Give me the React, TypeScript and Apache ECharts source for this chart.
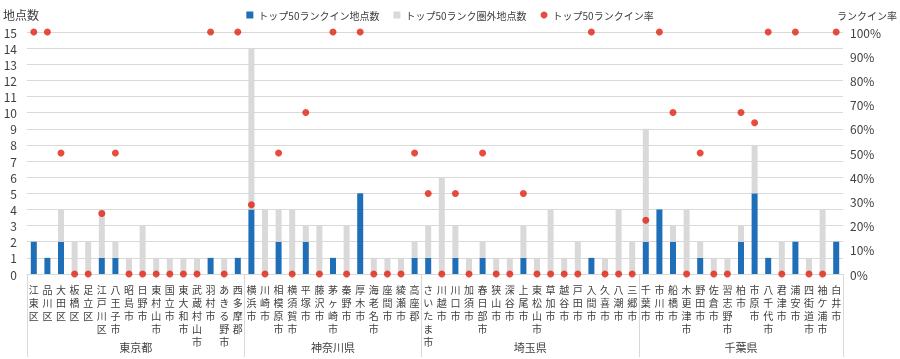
import React, { useEffect, useRef } from 'react';
import * as echarts from 'echarts';

const tokyo = ['江東区', '品川区', '大田区', '板橋区', '足立区', '江戸川区', '八王子市', '昭島市', '日野市', '東村山市', '国立市', '東大和市', '武蔵村山市', '羽村市', 'あきる野市', '西多摩郡'];
const kanagawa = ['横浜市', '川崎市', '相模原市', '横須賀市', '平塚市', '藤沢市', '茅ヶ崎市', '秦野市', '厚木市', '海老名市', '座間市', '綾瀬市', '高座郡'];
const saitama = ['さいたま市', '川越市', '川口市', '加須市', '春日部市', '狭山市', '深谷市', '上尾市', '東松山市', '草加市', '越谷市', '戸田市', '入間市', '久喜市', '八潮市', '三郷市'];
const chiba = ['千葉市', '市川市', '船橋市', '木更津市', '野田市', '佐倉市', '習志野市', '柏市', '市原市', '八千代市', '君津市', '浦安市', '四街道市', '袖ケ浦市', '白井市'];

const groupNames = ['東京都', '神奈川県', '埼玉県', '千葉県'];

const rankIn = [
  2, 1, 2, 0, 0, 1, 1, 0, 0, 0, 0, 0, 0, 1, 0, 1,
  4, 0, 2, 0, 2, 0, 1, 0, 5, 0, 0, 0, 1,
  1, 0, 1, 0, 1, 0, 0, 1, 0, 0, 0, 0, 1, 0, 0, 0,
  2, 4, 2, 0, 1, 0, 0, 2, 5, 1, 0, 2, 0, 0, 2,
];
const rankOut = [
  0, 0, 2, 2, 2, 3, 1, 1, 3, 1, 1, 1, 1, 0, 1, 0,
  10, 4, 2, 4, 1, 3, 0, 3, 0, 1, 1, 1, 1,
  2, 6, 2, 1, 1, 1, 1, 2, 1, 4, 1, 2, 0, 1, 4, 2,
  7, 0, 1, 4, 1, 1, 1, 1, 3, 0, 2, 0, 1, 4, 0,
];
const rankRate = [
  100, 100, 50, 0, 0, 25, 50, 0, 0, 0, 0, 0, 0, 100, 0, 100,
  28.6, 0, 50, 0, 66.7, 0, 100, 0, 100, 0, 0, 0, 50,
  33.3, 0, 33.3, 0, 50, 0, 0, 33.3, 0, 0, 0, 0, 100, 0, 0, 0,
  22.2, 100, 66.7, 0, 50, 0, 0, 66.7, 62.5, 100, 0, 100, 0, 0, 100,
];

const groups = [tokyo, kanagawa, saitama, chiba];
const categories = groups.flat();

export default function App() {
  const ref = useRef<HTMLDivElement>(null);
  useEffect(() => {
    const chart = echarts.init(ref.current!, null, { renderer: 'svg' });
    const bounds: number[] = [0];
    groups.forEach((g) => bounds.push(bounds[bounds.length - 1] + g.length));
    const centers = groups.map((g, i) => (bounds[i] + bounds[i + 1]) / 2);
    const font = '"Noto Sans CJK JP", "Noto Sans", sans-serif';
    chart.setOption({
      animation: false,
      textStyle: { fontFamily: font },
      legend: {
        top: 5,
        left: 'center',
        itemGap: 14,
        itemWidth: 7,
        itemHeight: 7,
        textStyle: { fontSize: 10, color: '#404040' },
        data: [
          { name: 'トップ50ランクイン地点数', icon: 'rect' },
          { name: 'トップ50ランク圏外地点数', icon: 'rect' },
          { name: 'トップ50ランクイン率', icon: 'circle' },
        ],
      },
      grid: { left: 27, right: 44, top: 32, bottom: 85 },
      xAxis: [
        {
          type: 'category',
          data: categories,
          axisLine: { lineStyle: { color: '#d9d9d9' } },
          axisTick: { show: false },
          axisLabel: {
            interval: 0,
            margin: 9,
            fontSize: 10,
            lineHeight: 13,
            color: '#404040',
            formatter: (v: string) => v.split('').join('\n'),
          },
        },
        {
          type: 'value',
          position: 'bottom',
          min: 0,
          max: categories.length,
          axisLine: { show: false },
          splitLine: { show: false },
          axisTick: {
            show: true,
            customValues: bounds,
            length: 83,
            lineStyle: { color: '#d9d9d9' },
          },
          axisLabel: {
            customValues: centers,
            margin: 67,
            fontSize: 11,
            color: '#404040',
            formatter: (v: number) => {
              const i = centers.findIndex((c) => Math.abs(c - v) < 0.01);
              return i >= 0 ? groupNames[i] : '';
            },
          },
        },
      ],
      yAxis: [
        {
          type: 'value',
          min: 0,
          max: 15,
          interval: 1,
          name: '地点数',
          nameLocation: 'end',
          nameGap: 12,
          nameTextStyle: { fontSize: 12, color: '#404040', align: 'center', padding: [0, 12, 0, 0] },
          axisLine: { show: false },
          axisTick: { show: false },
          axisLabel: { fontSize: 12, color: '#404040', margin: 10 },
          splitLine: { lineStyle: { color: '#d9d9d9' } },
        },
        {
          type: 'value',
          min: 0,
          max: 100,
          interval: 10,
          position: 'right',
          name: 'ランクイン率',
          nameLocation: 'end',
          nameGap: 12,
          nameTextStyle: { fontSize: 10, color: '#404040', align: 'center', padding: [0, 0, 0, 48] },
          axisLine: { show: false },
          axisTick: { show: false },
          axisLabel: { fontSize: 12, color: '#404040', margin: 7, formatter: '{value}%' },
          splitLine: { show: false },
        },
      ],
      series: [
        {
          name: 'トップ50ランクイン地点数',
          type: 'bar',
          stack: 'cnt',
          barWidth: 6,
          itemStyle: { color: '#1f6fb8' },
          data: rankIn,
        },
        {
          name: 'トップ50ランク圏外地点数',
          type: 'bar',
          stack: 'cnt',
          barWidth: 6,
          itemStyle: { color: '#d9d9d9' },
          data: rankOut,
        },
        {
          name: 'トップ50ランクイン率',
          type: 'scatter',
          yAxisIndex: 1,
          symbolSize: 7,
          z: 5,
          itemStyle: { color: '#e0200e' },
          data: rankRate,
        },
      ],
    });
    return () => chart.dispose();
  }, []);
  return <div ref={ref} style={{ position: 'fixed', left: 0, top: 0, width: 900, height: 359 }} />;
}
